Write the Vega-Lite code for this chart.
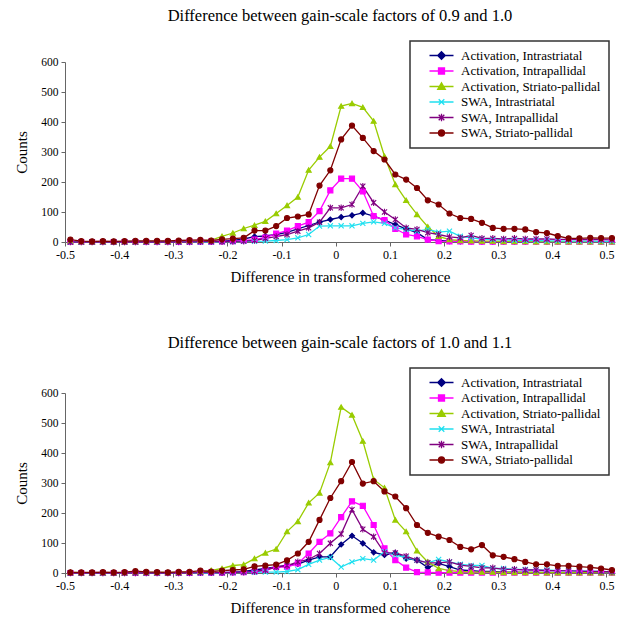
{
  "$schema": "https://vega.github.io/schema/vega-lite/v6.json",
  "padding": {"left": 14, "top": 7, "right": 0, "bottom": 0},
  "background": "white",
  "config": {
    "font": "Liberation Serif",
    "view": {"stroke": null},
    "axis": {"labelFont": "Liberation Serif", "titleFont": "Liberation Serif", "labelColor": "black", "titleColor": "black", "labelFontSize": 12, "titleFontSize": 15, "titleFontWeight": "normal", "domainColor": "#666", "tickColor": "#666", "tickSize": 4, "grid": false},
    "title": {"font": "Liberation Serif", "fontSize": 16.5, "fontWeight": "normal", "color": "black"}
  },
  "datasets": {
    "top": [
      {"s":"Activation, Intrastriatal","x":-0.49,"y":1},{"s":"Activation, Intrastriatal","x":-0.47,"y":0},{"s":"Activation, Intrastriatal","x":-0.45,"y":0},{"s":"Activation, Intrastriatal","x":-0.43,"y":0},{"s":"Activation, Intrastriatal","x":-0.41,"y":0},{"s":"Activation, Intrastriatal","x":-0.39,"y":0},{"s":"Activation, Intrastriatal","x":-0.37,"y":0},{"s":"Activation, Intrastriatal","x":-0.35,"y":1},{"s":"Activation, Intrastriatal","x":-0.33,"y":0},{"s":"Activation, Intrastriatal","x":-0.31,"y":0},
      {"s":"Activation, Intrastriatal","x":-0.29,"y":1},{"s":"Activation, Intrastriatal","x":-0.27,"y":1},{"s":"Activation, Intrastriatal","x":-0.25,"y":1},{"s":"Activation, Intrastriatal","x":-0.23,"y":2},{"s":"Activation, Intrastriatal","x":-0.21,"y":3},{"s":"Activation, Intrastriatal","x":-0.19,"y":5},{"s":"Activation, Intrastriatal","x":-0.17,"y":10},{"s":"Activation, Intrastriatal","x":-0.15,"y":18},{"s":"Activation, Intrastriatal","x":-0.13,"y":20},{"s":"Activation, Intrastriatal","x":-0.11,"y":25},
      {"s":"Activation, Intrastriatal","x":-0.09,"y":32},{"s":"Activation, Intrastriatal","x":-0.07,"y":44},{"s":"Activation, Intrastriatal","x":-0.05,"y":55},{"s":"Activation, Intrastriatal","x":-0.03,"y":66},{"s":"Activation, Intrastriatal","x":-0.01,"y":75},{"s":"Activation, Intrastriatal","x":0.01,"y":83},{"s":"Activation, Intrastriatal","x":0.03,"y":89},{"s":"Activation, Intrastriatal","x":0.05,"y":97},{"s":"Activation, Intrastriatal","x":0.07,"y":86},{"s":"Activation, Intrastriatal","x":0.09,"y":73},
      {"s":"Activation, Intrastriatal","x":0.11,"y":58},{"s":"Activation, Intrastriatal","x":0.13,"y":44},{"s":"Activation, Intrastriatal","x":0.15,"y":31},{"s":"Activation, Intrastriatal","x":0.17,"y":8},{"s":"Activation, Intrastriatal","x":0.19,"y":5},{"s":"Activation, Intrastriatal","x":0.21,"y":3},{"s":"Activation, Intrastriatal","x":0.23,"y":2},{"s":"Activation, Intrastriatal","x":0.25,"y":2},{"s":"Activation, Intrastriatal","x":0.27,"y":1},{"s":"Activation, Intrastriatal","x":0.29,"y":1},
      {"s":"Activation, Intrastriatal","x":0.31,"y":1},{"s":"Activation, Intrastriatal","x":0.33,"y":1},{"s":"Activation, Intrastriatal","x":0.35,"y":1},{"s":"Activation, Intrastriatal","x":0.37,"y":1},{"s":"Activation, Intrastriatal","x":0.39,"y":1},{"s":"Activation, Intrastriatal","x":0.41,"y":1},{"s":"Activation, Intrastriatal","x":0.43,"y":1},{"s":"Activation, Intrastriatal","x":0.45,"y":1},{"s":"Activation, Intrastriatal","x":0.47,"y":1},{"s":"Activation, Intrastriatal","x":0.49,"y":1},{"s":"Activation, Intrastriatal","x":0.51,"y":1},

      {"s":"Activation, Intrapallidal","x":-0.49,"y":0},{"s":"Activation, Intrapallidal","x":-0.47,"y":0},{"s":"Activation, Intrapallidal","x":-0.45,"y":0},{"s":"Activation, Intrapallidal","x":-0.43,"y":0},{"s":"Activation, Intrapallidal","x":-0.41,"y":0},{"s":"Activation, Intrapallidal","x":-0.39,"y":0},{"s":"Activation, Intrapallidal","x":-0.37,"y":0},{"s":"Activation, Intrapallidal","x":-0.35,"y":0},{"s":"Activation, Intrapallidal","x":-0.33,"y":0},{"s":"Activation, Intrapallidal","x":-0.31,"y":0},
      {"s":"Activation, Intrapallidal","x":-0.29,"y":0},{"s":"Activation, Intrapallidal","x":-0.27,"y":1},{"s":"Activation, Intrapallidal","x":-0.25,"y":1},{"s":"Activation, Intrapallidal","x":-0.23,"y":1},{"s":"Activation, Intrapallidal","x":-0.21,"y":2},{"s":"Activation, Intrapallidal","x":-0.19,"y":3},{"s":"Activation, Intrapallidal","x":-0.17,"y":5},{"s":"Activation, Intrapallidal","x":-0.15,"y":8},{"s":"Activation, Intrapallidal","x":-0.13,"y":15},{"s":"Activation, Intrapallidal","x":-0.11,"y":28},
      {"s":"Activation, Intrapallidal","x":-0.09,"y":38},{"s":"Activation, Intrapallidal","x":-0.07,"y":53},{"s":"Activation, Intrapallidal","x":-0.05,"y":66},{"s":"Activation, Intrapallidal","x":-0.03,"y":103},{"s":"Activation, Intrapallidal","x":-0.01,"y":172},{"s":"Activation, Intrapallidal","x":0.01,"y":211},{"s":"Activation, Intrapallidal","x":0.03,"y":211},{"s":"Activation, Intrapallidal","x":0.05,"y":169},{"s":"Activation, Intrapallidal","x":0.07,"y":86},{"s":"Activation, Intrapallidal","x":0.09,"y":73},
      {"s":"Activation, Intrapallidal","x":0.11,"y":44},{"s":"Activation, Intrapallidal","x":0.13,"y":25},{"s":"Activation, Intrapallidal","x":0.15,"y":19},{"s":"Activation, Intrapallidal","x":0.17,"y":8},{"s":"Activation, Intrapallidal","x":0.19,"y":3},{"s":"Activation, Intrapallidal","x":0.21,"y":2},{"s":"Activation, Intrapallidal","x":0.23,"y":2},{"s":"Activation, Intrapallidal","x":0.25,"y":1},{"s":"Activation, Intrapallidal","x":0.27,"y":1},{"s":"Activation, Intrapallidal","x":0.29,"y":1},
      {"s":"Activation, Intrapallidal","x":0.31,"y":1},{"s":"Activation, Intrapallidal","x":0.33,"y":1},{"s":"Activation, Intrapallidal","x":0.35,"y":1},{"s":"Activation, Intrapallidal","x":0.37,"y":1},{"s":"Activation, Intrapallidal","x":0.39,"y":1},{"s":"Activation, Intrapallidal","x":0.41,"y":1},{"s":"Activation, Intrapallidal","x":0.43,"y":1},{"s":"Activation, Intrapallidal","x":0.45,"y":1},{"s":"Activation, Intrapallidal","x":0.47,"y":1},{"s":"Activation, Intrapallidal","x":0.49,"y":1},{"s":"Activation, Intrapallidal","x":0.51,"y":1},

      {"s":"Activation, Striato-pallidal","x":-0.49,"y":2},{"s":"Activation, Striato-pallidal","x":-0.47,"y":1},{"s":"Activation, Striato-pallidal","x":-0.45,"y":1},{"s":"Activation, Striato-pallidal","x":-0.43,"y":1},{"s":"Activation, Striato-pallidal","x":-0.41,"y":1},{"s":"Activation, Striato-pallidal","x":-0.39,"y":1},{"s":"Activation, Striato-pallidal","x":-0.37,"y":1},{"s":"Activation, Striato-pallidal","x":-0.35,"y":2},{"s":"Activation, Striato-pallidal","x":-0.33,"y":2},{"s":"Activation, Striato-pallidal","x":-0.31,"y":2},
      {"s":"Activation, Striato-pallidal","x":-0.29,"y":3},{"s":"Activation, Striato-pallidal","x":-0.27,"y":3},{"s":"Activation, Striato-pallidal","x":-0.25,"y":4},{"s":"Activation, Striato-pallidal","x":-0.23,"y":6},{"s":"Activation, Striato-pallidal","x":-0.21,"y":19},{"s":"Activation, Striato-pallidal","x":-0.19,"y":30},{"s":"Activation, Striato-pallidal","x":-0.17,"y":45},{"s":"Activation, Striato-pallidal","x":-0.15,"y":56},{"s":"Activation, Striato-pallidal","x":-0.13,"y":69},{"s":"Activation, Striato-pallidal","x":-0.11,"y":95},
      {"s":"Activation, Striato-pallidal","x":-0.09,"y":122},{"s":"Activation, Striato-pallidal","x":-0.07,"y":150},{"s":"Activation, Striato-pallidal","x":-0.05,"y":240},{"s":"Activation, Striato-pallidal","x":-0.03,"y":283},{"s":"Activation, Striato-pallidal","x":-0.01,"y":319},{"s":"Activation, Striato-pallidal","x":0.01,"y":453},{"s":"Activation, Striato-pallidal","x":0.03,"y":462},{"s":"Activation, Striato-pallidal","x":0.05,"y":449},{"s":"Activation, Striato-pallidal","x":0.07,"y":403},{"s":"Activation, Striato-pallidal","x":0.09,"y":286},
      {"s":"Activation, Striato-pallidal","x":0.11,"y":192},{"s":"Activation, Striato-pallidal","x":0.13,"y":139},{"s":"Activation, Striato-pallidal","x":0.15,"y":92},{"s":"Activation, Striato-pallidal","x":0.17,"y":51},{"s":"Activation, Striato-pallidal","x":0.19,"y":19},{"s":"Activation, Striato-pallidal","x":0.21,"y":8},{"s":"Activation, Striato-pallidal","x":0.23,"y":5},{"s":"Activation, Striato-pallidal","x":0.25,"y":4},{"s":"Activation, Striato-pallidal","x":0.27,"y":3},{"s":"Activation, Striato-pallidal","x":0.29,"y":3},
      {"s":"Activation, Striato-pallidal","x":0.31,"y":2},{"s":"Activation, Striato-pallidal","x":0.33,"y":2},{"s":"Activation, Striato-pallidal","x":0.35,"y":2},{"s":"Activation, Striato-pallidal","x":0.37,"y":1},{"s":"Activation, Striato-pallidal","x":0.39,"y":1},{"s":"Activation, Striato-pallidal","x":0.41,"y":1},{"s":"Activation, Striato-pallidal","x":0.43,"y":1},{"s":"Activation, Striato-pallidal","x":0.45,"y":1},{"s":"Activation, Striato-pallidal","x":0.47,"y":1},{"s":"Activation, Striato-pallidal","x":0.49,"y":1},{"s":"Activation, Striato-pallidal","x":0.51,"y":1},

      {"s":"SWA, Intrastriatal","x":-0.49,"y":0},{"s":"SWA, Intrastriatal","x":-0.47,"y":0},{"s":"SWA, Intrastriatal","x":-0.45,"y":0},{"s":"SWA, Intrastriatal","x":-0.43,"y":0},{"s":"SWA, Intrastriatal","x":-0.41,"y":0},{"s":"SWA, Intrastriatal","x":-0.39,"y":0},{"s":"SWA, Intrastriatal","x":-0.37,"y":0},{"s":"SWA, Intrastriatal","x":-0.35,"y":0},{"s":"SWA, Intrastriatal","x":-0.33,"y":0},{"s":"SWA, Intrastriatal","x":-0.31,"y":0},
      {"s":"SWA, Intrastriatal","x":-0.29,"y":0},{"s":"SWA, Intrastriatal","x":-0.27,"y":0},{"s":"SWA, Intrastriatal","x":-0.25,"y":0},{"s":"SWA, Intrastriatal","x":-0.23,"y":0},{"s":"SWA, Intrastriatal","x":-0.21,"y":1},{"s":"SWA, Intrastriatal","x":-0.19,"y":1},{"s":"SWA, Intrastriatal","x":-0.17,"y":2},{"s":"SWA, Intrastriatal","x":-0.15,"y":2},{"s":"SWA, Intrastriatal","x":-0.13,"y":3},{"s":"SWA, Intrastriatal","x":-0.11,"y":5},
      {"s":"SWA, Intrastriatal","x":-0.09,"y":8},{"s":"SWA, Intrastriatal","x":-0.07,"y":14},{"s":"SWA, Intrastriatal","x":-0.05,"y":25},{"s":"SWA, Intrastriatal","x":-0.03,"y":53},{"s":"SWA, Intrastriatal","x":-0.01,"y":54},{"s":"SWA, Intrastriatal","x":0.01,"y":54},{"s":"SWA, Intrastriatal","x":0.03,"y":54},{"s":"SWA, Intrastriatal","x":0.05,"y":62},{"s":"SWA, Intrastriatal","x":0.07,"y":67},{"s":"SWA, Intrastriatal","x":0.09,"y":62},
      {"s":"SWA, Intrastriatal","x":0.11,"y":47},{"s":"SWA, Intrastriatal","x":0.13,"y":42},{"s":"SWA, Intrastriatal","x":0.15,"y":36},{"s":"SWA, Intrastriatal","x":0.17,"y":42},{"s":"SWA, Intrastriatal","x":0.19,"y":33},{"s":"SWA, Intrastriatal","x":0.21,"y":36},{"s":"SWA, Intrastriatal","x":0.23,"y":19},{"s":"SWA, Intrastriatal","x":0.25,"y":14},{"s":"SWA, Intrastriatal","x":0.27,"y":10},{"s":"SWA, Intrastriatal","x":0.29,"y":8},
      {"s":"SWA, Intrastriatal","x":0.31,"y":7},{"s":"SWA, Intrastriatal","x":0.33,"y":6},{"s":"SWA, Intrastriatal","x":0.35,"y":5},{"s":"SWA, Intrastriatal","x":0.37,"y":5},{"s":"SWA, Intrastriatal","x":0.39,"y":4},{"s":"SWA, Intrastriatal","x":0.41,"y":4},{"s":"SWA, Intrastriatal","x":0.43,"y":3},{"s":"SWA, Intrastriatal","x":0.45,"y":3},{"s":"SWA, Intrastriatal","x":0.47,"y":3},{"s":"SWA, Intrastriatal","x":0.49,"y":2},{"s":"SWA, Intrastriatal","x":0.51,"y":2},

      {"s":"SWA, Intrapallidal","x":-0.49,"y":0},{"s":"SWA, Intrapallidal","x":-0.47,"y":0},{"s":"SWA, Intrapallidal","x":-0.45,"y":0},{"s":"SWA, Intrapallidal","x":-0.43,"y":0},{"s":"SWA, Intrapallidal","x":-0.41,"y":0},{"s":"SWA, Intrapallidal","x":-0.39,"y":0},{"s":"SWA, Intrapallidal","x":-0.37,"y":0},{"s":"SWA, Intrapallidal","x":-0.35,"y":0},{"s":"SWA, Intrapallidal","x":-0.33,"y":0},{"s":"SWA, Intrapallidal","x":-0.31,"y":0},
      {"s":"SWA, Intrapallidal","x":-0.29,"y":0},{"s":"SWA, Intrapallidal","x":-0.27,"y":0},{"s":"SWA, Intrapallidal","x":-0.25,"y":1},{"s":"SWA, Intrapallidal","x":-0.23,"y":1},{"s":"SWA, Intrapallidal","x":-0.21,"y":1},{"s":"SWA, Intrapallidal","x":-0.19,"y":2},{"s":"SWA, Intrapallidal","x":-0.17,"y":3},{"s":"SWA, Intrapallidal","x":-0.15,"y":5},{"s":"SWA, Intrapallidal","x":-0.13,"y":12},{"s":"SWA, Intrapallidal","x":-0.11,"y":18},
      {"s":"SWA, Intrapallidal","x":-0.09,"y":25},{"s":"SWA, Intrapallidal","x":-0.07,"y":36},{"s":"SWA, Intrapallidal","x":-0.05,"y":47},{"s":"SWA, Intrapallidal","x":-0.03,"y":66},{"s":"SWA, Intrapallidal","x":-0.01,"y":114},{"s":"SWA, Intrapallidal","x":0.01,"y":114},{"s":"SWA, Intrapallidal","x":0.03,"y":125},{"s":"SWA, Intrapallidal","x":0.05,"y":186},{"s":"SWA, Intrapallidal","x":0.07,"y":131},{"s":"SWA, Intrapallidal","x":0.09,"y":100},
      {"s":"SWA, Intrapallidal","x":0.11,"y":75},{"s":"SWA, Intrapallidal","x":0.13,"y":47},{"s":"SWA, Intrapallidal","x":0.15,"y":42},{"s":"SWA, Intrapallidal","x":0.17,"y":31},{"s":"SWA, Intrapallidal","x":0.19,"y":25},{"s":"SWA, Intrapallidal","x":0.21,"y":17},{"s":"SWA, Intrapallidal","x":0.23,"y":14},{"s":"SWA, Intrapallidal","x":0.25,"y":22},{"s":"SWA, Intrapallidal","x":0.27,"y":12},{"s":"SWA, Intrapallidal","x":0.29,"y":12},
      {"s":"SWA, Intrapallidal","x":0.31,"y":10},{"s":"SWA, Intrapallidal","x":0.33,"y":12},{"s":"SWA, Intrapallidal","x":0.35,"y":10},{"s":"SWA, Intrapallidal","x":0.37,"y":10},{"s":"SWA, Intrapallidal","x":0.39,"y":10},{"s":"SWA, Intrapallidal","x":0.41,"y":9},{"s":"SWA, Intrapallidal","x":0.43,"y":9},{"s":"SWA, Intrapallidal","x":0.45,"y":8},{"s":"SWA, Intrapallidal","x":0.47,"y":8},{"s":"SWA, Intrapallidal","x":0.49,"y":8},{"s":"SWA, Intrapallidal","x":0.51,"y":7},

      {"s":"SWA, Striato-pallidal","x":-0.49,"y":8},{"s":"SWA, Striato-pallidal","x":-0.47,"y":3},{"s":"SWA, Striato-pallidal","x":-0.45,"y":2},{"s":"SWA, Striato-pallidal","x":-0.43,"y":3},{"s":"SWA, Striato-pallidal","x":-0.41,"y":2},{"s":"SWA, Striato-pallidal","x":-0.39,"y":3},{"s":"SWA, Striato-pallidal","x":-0.37,"y":4},{"s":"SWA, Striato-pallidal","x":-0.35,"y":4},{"s":"SWA, Striato-pallidal","x":-0.33,"y":4},{"s":"SWA, Striato-pallidal","x":-0.31,"y":4},
      {"s":"SWA, Striato-pallidal","x":-0.29,"y":5},{"s":"SWA, Striato-pallidal","x":-0.27,"y":6},{"s":"SWA, Striato-pallidal","x":-0.25,"y":7},{"s":"SWA, Striato-pallidal","x":-0.23,"y":5},{"s":"SWA, Striato-pallidal","x":-0.21,"y":9},{"s":"SWA, Striato-pallidal","x":-0.19,"y":11},{"s":"SWA, Striato-pallidal","x":-0.17,"y":14},{"s":"SWA, Striato-pallidal","x":-0.15,"y":38},{"s":"SWA, Striato-pallidal","x":-0.13,"y":38},{"s":"SWA, Striato-pallidal","x":-0.11,"y":53},
      {"s":"SWA, Striato-pallidal","x":-0.09,"y":80},{"s":"SWA, Striato-pallidal","x":-0.07,"y":85},{"s":"SWA, Striato-pallidal","x":-0.05,"y":92},{"s":"SWA, Striato-pallidal","x":-0.03,"y":188},{"s":"SWA, Striato-pallidal","x":-0.01,"y":239},{"s":"SWA, Striato-pallidal","x":0.01,"y":342},{"s":"SWA, Striato-pallidal","x":0.03,"y":388},{"s":"SWA, Striato-pallidal","x":0.05,"y":347},{"s":"SWA, Striato-pallidal","x":0.07,"y":303},{"s":"SWA, Striato-pallidal","x":0.09,"y":275},
      {"s":"SWA, Striato-pallidal","x":0.11,"y":225},{"s":"SWA, Striato-pallidal","x":0.13,"y":208},{"s":"SWA, Striato-pallidal","x":0.15,"y":180},{"s":"SWA, Striato-pallidal","x":0.17,"y":139},{"s":"SWA, Striato-pallidal","x":0.19,"y":125},{"s":"SWA, Striato-pallidal","x":0.21,"y":95},{"s":"SWA, Striato-pallidal","x":0.23,"y":80},{"s":"SWA, Striato-pallidal","x":0.25,"y":77},{"s":"SWA, Striato-pallidal","x":0.27,"y":64},{"s":"SWA, Striato-pallidal","x":0.29,"y":47},
      {"s":"SWA, Striato-pallidal","x":0.31,"y":44},{"s":"SWA, Striato-pallidal","x":0.33,"y":44},{"s":"SWA, Striato-pallidal","x":0.35,"y":42},{"s":"SWA, Striato-pallidal","x":0.37,"y":33},{"s":"SWA, Striato-pallidal","x":0.39,"y":30},{"s":"SWA, Striato-pallidal","x":0.41,"y":20},{"s":"SWA, Striato-pallidal","x":0.43,"y":12},{"s":"SWA, Striato-pallidal","x":0.45,"y":12},{"s":"SWA, Striato-pallidal","x":0.47,"y":14},{"s":"SWA, Striato-pallidal","x":0.49,"y":13},{"s":"SWA, Striato-pallidal","x":0.51,"y":13}
    ],
    "bottom": [
      {"s":"Activation, Intrastriatal","x":-0.49,"y":1},{"s":"Activation, Intrastriatal","x":-0.47,"y":0},{"s":"Activation, Intrastriatal","x":-0.45,"y":0},{"s":"Activation, Intrastriatal","x":-0.43,"y":0},{"s":"Activation, Intrastriatal","x":-0.41,"y":0},{"s":"Activation, Intrastriatal","x":-0.39,"y":0},{"s":"Activation, Intrastriatal","x":-0.37,"y":0},{"s":"Activation, Intrastriatal","x":-0.35,"y":0},{"s":"Activation, Intrastriatal","x":-0.33,"y":0},{"s":"Activation, Intrastriatal","x":-0.31,"y":0},
      {"s":"Activation, Intrastriatal","x":-0.29,"y":0},{"s":"Activation, Intrastriatal","x":-0.27,"y":1},{"s":"Activation, Intrastriatal","x":-0.25,"y":1},{"s":"Activation, Intrastriatal","x":-0.23,"y":1},{"s":"Activation, Intrastriatal","x":-0.21,"y":2},{"s":"Activation, Intrastriatal","x":-0.19,"y":3},{"s":"Activation, Intrastriatal","x":-0.17,"y":5},{"s":"Activation, Intrastriatal","x":-0.15,"y":10},{"s":"Activation, Intrastriatal","x":-0.13,"y":15},{"s":"Activation, Intrastriatal","x":-0.11,"y":20},
      {"s":"Activation, Intrastriatal","x":-0.09,"y":25},{"s":"Activation, Intrastriatal","x":-0.07,"y":30},{"s":"Activation, Intrastriatal","x":-0.05,"y":43},{"s":"Activation, Intrastriatal","x":-0.03,"y":54},{"s":"Activation, Intrastriatal","x":-0.01,"y":54},{"s":"Activation, Intrastriatal","x":0.01,"y":95},{"s":"Activation, Intrastriatal","x":0.03,"y":124},{"s":"Activation, Intrastriatal","x":0.05,"y":99},{"s":"Activation, Intrastriatal","x":0.07,"y":69},{"s":"Activation, Intrastriatal","x":0.09,"y":60},
      {"s":"Activation, Intrastriatal","x":0.11,"y":67},{"s":"Activation, Intrastriatal","x":0.13,"y":48},{"s":"Activation, Intrastriatal","x":0.15,"y":43},{"s":"Activation, Intrastriatal","x":0.17,"y":18},{"s":"Activation, Intrastriatal","x":0.19,"y":32},{"s":"Activation, Intrastriatal","x":0.21,"y":21},{"s":"Activation, Intrastriatal","x":0.23,"y":10},{"s":"Activation, Intrastriatal","x":0.25,"y":8},{"s":"Activation, Intrastriatal","x":0.27,"y":5},{"s":"Activation, Intrastriatal","x":0.29,"y":5},
      {"s":"Activation, Intrastriatal","x":0.31,"y":3},{"s":"Activation, Intrastriatal","x":0.33,"y":3},{"s":"Activation, Intrastriatal","x":0.35,"y":2},{"s":"Activation, Intrastriatal","x":0.37,"y":2},{"s":"Activation, Intrastriatal","x":0.39,"y":2},{"s":"Activation, Intrastriatal","x":0.41,"y":2},{"s":"Activation, Intrastriatal","x":0.43,"y":1},{"s":"Activation, Intrastriatal","x":0.45,"y":1},{"s":"Activation, Intrastriatal","x":0.47,"y":1},{"s":"Activation, Intrastriatal","x":0.49,"y":1},{"s":"Activation, Intrastriatal","x":0.51,"y":1},

      {"s":"Activation, Intrapallidal","x":-0.49,"y":0},{"s":"Activation, Intrapallidal","x":-0.47,"y":0},{"s":"Activation, Intrapallidal","x":-0.45,"y":0},{"s":"Activation, Intrapallidal","x":-0.43,"y":0},{"s":"Activation, Intrapallidal","x":-0.41,"y":0},{"s":"Activation, Intrapallidal","x":-0.39,"y":0},{"s":"Activation, Intrapallidal","x":-0.37,"y":0},{"s":"Activation, Intrapallidal","x":-0.35,"y":0},{"s":"Activation, Intrapallidal","x":-0.33,"y":0},{"s":"Activation, Intrapallidal","x":-0.31,"y":0},
      {"s":"Activation, Intrapallidal","x":-0.29,"y":0},{"s":"Activation, Intrapallidal","x":-0.27,"y":0},{"s":"Activation, Intrapallidal","x":-0.25,"y":1},{"s":"Activation, Intrapallidal","x":-0.23,"y":1},{"s":"Activation, Intrapallidal","x":-0.21,"y":1},{"s":"Activation, Intrapallidal","x":-0.19,"y":2},{"s":"Activation, Intrapallidal","x":-0.17,"y":3},{"s":"Activation, Intrapallidal","x":-0.15,"y":5},{"s":"Activation, Intrapallidal","x":-0.13,"y":10},{"s":"Activation, Intrapallidal","x":-0.11,"y":20},
      {"s":"Activation, Intrapallidal","x":-0.09,"y":20},{"s":"Activation, Intrapallidal","x":-0.07,"y":32},{"s":"Activation, Intrapallidal","x":-0.05,"y":65},{"s":"Activation, Intrapallidal","x":-0.03,"y":104},{"s":"Activation, Intrapallidal","x":-0.01,"y":132},{"s":"Activation, Intrapallidal","x":0.01,"y":186},{"s":"Activation, Intrapallidal","x":0.03,"y":239},{"s":"Activation, Intrapallidal","x":0.05,"y":224},{"s":"Activation, Intrapallidal","x":0.07,"y":160},{"s":"Activation, Intrapallidal","x":0.09,"y":82},
      {"s":"Activation, Intrapallidal","x":0.11,"y":43},{"s":"Activation, Intrapallidal","x":0.13,"y":18},{"s":"Activation, Intrapallidal","x":0.15,"y":3},{"s":"Activation, Intrapallidal","x":0.17,"y":2},{"s":"Activation, Intrapallidal","x":0.19,"y":1},{"s":"Activation, Intrapallidal","x":0.21,"y":1},{"s":"Activation, Intrapallidal","x":0.23,"y":1},{"s":"Activation, Intrapallidal","x":0.25,"y":1},{"s":"Activation, Intrapallidal","x":0.27,"y":1},{"s":"Activation, Intrapallidal","x":0.29,"y":1},
      {"s":"Activation, Intrapallidal","x":0.31,"y":1},{"s":"Activation, Intrapallidal","x":0.33,"y":1},{"s":"Activation, Intrapallidal","x":0.35,"y":1},{"s":"Activation, Intrapallidal","x":0.37,"y":1},{"s":"Activation, Intrapallidal","x":0.39,"y":1},{"s":"Activation, Intrapallidal","x":0.41,"y":1},{"s":"Activation, Intrapallidal","x":0.43,"y":1},{"s":"Activation, Intrapallidal","x":0.45,"y":1},{"s":"Activation, Intrapallidal","x":0.47,"y":1},{"s":"Activation, Intrapallidal","x":0.49,"y":1},{"s":"Activation, Intrapallidal","x":0.51,"y":1},

      {"s":"Activation, Striato-pallidal","x":-0.49,"y":2},{"s":"Activation, Striato-pallidal","x":-0.47,"y":1},{"s":"Activation, Striato-pallidal","x":-0.45,"y":1},{"s":"Activation, Striato-pallidal","x":-0.43,"y":1},{"s":"Activation, Striato-pallidal","x":-0.41,"y":1},{"s":"Activation, Striato-pallidal","x":-0.39,"y":1},{"s":"Activation, Striato-pallidal","x":-0.37,"y":2},{"s":"Activation, Striato-pallidal","x":-0.35,"y":2},{"s":"Activation, Striato-pallidal","x":-0.33,"y":2},{"s":"Activation, Striato-pallidal","x":-0.31,"y":2},
      {"s":"Activation, Striato-pallidal","x":-0.29,"y":2},{"s":"Activation, Striato-pallidal","x":-0.27,"y":3},{"s":"Activation, Striato-pallidal","x":-0.25,"y":3},{"s":"Activation, Striato-pallidal","x":-0.23,"y":9},{"s":"Activation, Striato-pallidal","x":-0.21,"y":15},{"s":"Activation, Striato-pallidal","x":-0.19,"y":25},{"s":"Activation, Striato-pallidal","x":-0.17,"y":28},{"s":"Activation, Striato-pallidal","x":-0.15,"y":48},{"s":"Activation, Striato-pallidal","x":-0.13,"y":67},{"s":"Activation, Striato-pallidal","x":-0.11,"y":80},
      {"s":"Activation, Striato-pallidal","x":-0.09,"y":138},{"s":"Activation, Striato-pallidal","x":-0.07,"y":172},{"s":"Activation, Striato-pallidal","x":-0.05,"y":234},{"s":"Activation, Striato-pallidal","x":-0.03,"y":267},{"s":"Activation, Striato-pallidal","x":-0.01,"y":368},{"s":"Activation, Striato-pallidal","x":0.01,"y":553},{"s":"Activation, Striato-pallidal","x":0.03,"y":527},{"s":"Activation, Striato-pallidal","x":0.05,"y":440},{"s":"Activation, Striato-pallidal","x":0.07,"y":312},{"s":"Activation, Striato-pallidal","x":0.09,"y":284},
      {"s":"Activation, Striato-pallidal","x":0.11,"y":177},{"s":"Activation, Striato-pallidal","x":0.13,"y":138},{"s":"Activation, Striato-pallidal","x":0.15,"y":74},{"s":"Activation, Striato-pallidal","x":0.17,"y":37},{"s":"Activation, Striato-pallidal","x":0.19,"y":15},{"s":"Activation, Striato-pallidal","x":0.21,"y":8},{"s":"Activation, Striato-pallidal","x":0.23,"y":5},{"s":"Activation, Striato-pallidal","x":0.25,"y":4},{"s":"Activation, Striato-pallidal","x":0.27,"y":3},{"s":"Activation, Striato-pallidal","x":0.29,"y":3},
      {"s":"Activation, Striato-pallidal","x":0.31,"y":2},{"s":"Activation, Striato-pallidal","x":0.33,"y":2},{"s":"Activation, Striato-pallidal","x":0.35,"y":2},{"s":"Activation, Striato-pallidal","x":0.37,"y":2},{"s":"Activation, Striato-pallidal","x":0.39,"y":1},{"s":"Activation, Striato-pallidal","x":0.41,"y":1},{"s":"Activation, Striato-pallidal","x":0.43,"y":1},{"s":"Activation, Striato-pallidal","x":0.45,"y":1},{"s":"Activation, Striato-pallidal","x":0.47,"y":1},{"s":"Activation, Striato-pallidal","x":0.49,"y":1},{"s":"Activation, Striato-pallidal","x":0.51,"y":1},

      {"s":"SWA, Intrastriatal","x":-0.49,"y":0},{"s":"SWA, Intrastriatal","x":-0.47,"y":0},{"s":"SWA, Intrastriatal","x":-0.45,"y":0},{"s":"SWA, Intrastriatal","x":-0.43,"y":0},{"s":"SWA, Intrastriatal","x":-0.41,"y":0},{"s":"SWA, Intrastriatal","x":-0.39,"y":0},{"s":"SWA, Intrastriatal","x":-0.37,"y":0},{"s":"SWA, Intrastriatal","x":-0.35,"y":0},{"s":"SWA, Intrastriatal","x":-0.33,"y":0},{"s":"SWA, Intrastriatal","x":-0.31,"y":0},
      {"s":"SWA, Intrastriatal","x":-0.29,"y":0},{"s":"SWA, Intrastriatal","x":-0.27,"y":0},{"s":"SWA, Intrastriatal","x":-0.25,"y":0},{"s":"SWA, Intrastriatal","x":-0.23,"y":0},{"s":"SWA, Intrastriatal","x":-0.21,"y":1},{"s":"SWA, Intrastriatal","x":-0.19,"y":1},{"s":"SWA, Intrastriatal","x":-0.17,"y":2},{"s":"SWA, Intrastriatal","x":-0.15,"y":2},{"s":"SWA, Intrastriatal","x":-0.13,"y":3},{"s":"SWA, Intrastriatal","x":-0.11,"y":3},
      {"s":"SWA, Intrastriatal","x":-0.09,"y":5},{"s":"SWA, Intrastriatal","x":-0.07,"y":11},{"s":"SWA, Intrastriatal","x":-0.05,"y":29},{"s":"SWA, Intrastriatal","x":-0.03,"y":43},{"s":"SWA, Intrastriatal","x":-0.01,"y":52},{"s":"SWA, Intrastriatal","x":0.01,"y":20},{"s":"SWA, Intrastriatal","x":0.03,"y":37},{"s":"SWA, Intrastriatal","x":0.05,"y":48},{"s":"SWA, Intrastriatal","x":0.07,"y":43},{"s":"SWA, Intrastriatal","x":0.09,"y":71},
      {"s":"SWA, Intrastriatal","x":0.11,"y":60},{"s":"SWA, Intrastriatal","x":0.13,"y":51},{"s":"SWA, Intrastriatal","x":0.15,"y":43},{"s":"SWA, Intrastriatal","x":0.17,"y":34},{"s":"SWA, Intrastriatal","x":0.19,"y":45},{"s":"SWA, Intrastriatal","x":0.21,"y":37},{"s":"SWA, Intrastriatal","x":0.23,"y":29},{"s":"SWA, Intrastriatal","x":0.25,"y":25},{"s":"SWA, Intrastriatal","x":0.27,"y":25},{"s":"SWA, Intrastriatal","x":0.29,"y":15},
      {"s":"SWA, Intrastriatal","x":0.31,"y":15},{"s":"SWA, Intrastriatal","x":0.33,"y":12},{"s":"SWA, Intrastriatal","x":0.35,"y":12},{"s":"SWA, Intrastriatal","x":0.37,"y":10},{"s":"SWA, Intrastriatal","x":0.39,"y":10},{"s":"SWA, Intrastriatal","x":0.41,"y":8},{"s":"SWA, Intrastriatal","x":0.43,"y":8},{"s":"SWA, Intrastriatal","x":0.45,"y":7},{"s":"SWA, Intrastriatal","x":0.47,"y":6},{"s":"SWA, Intrastriatal","x":0.49,"y":5},{"s":"SWA, Intrastriatal","x":0.51,"y":4},

      {"s":"SWA, Intrapallidal","x":-0.49,"y":0},{"s":"SWA, Intrapallidal","x":-0.47,"y":0},{"s":"SWA, Intrapallidal","x":-0.45,"y":0},{"s":"SWA, Intrapallidal","x":-0.43,"y":0},{"s":"SWA, Intrapallidal","x":-0.41,"y":0},{"s":"SWA, Intrapallidal","x":-0.39,"y":0},{"s":"SWA, Intrapallidal","x":-0.37,"y":0},{"s":"SWA, Intrapallidal","x":-0.35,"y":0},{"s":"SWA, Intrapallidal","x":-0.33,"y":0},{"s":"SWA, Intrapallidal","x":-0.31,"y":0},
      {"s":"SWA, Intrapallidal","x":-0.29,"y":0},{"s":"SWA, Intrapallidal","x":-0.27,"y":0},{"s":"SWA, Intrapallidal","x":-0.25,"y":1},{"s":"SWA, Intrapallidal","x":-0.23,"y":1},{"s":"SWA, Intrapallidal","x":-0.21,"y":1},{"s":"SWA, Intrapallidal","x":-0.19,"y":2},{"s":"SWA, Intrapallidal","x":-0.17,"y":3},{"s":"SWA, Intrapallidal","x":-0.15,"y":5},{"s":"SWA, Intrapallidal","x":-0.13,"y":10},{"s":"SWA, Intrapallidal","x":-0.11,"y":20},
      {"s":"SWA, Intrapallidal","x":-0.09,"y":25},{"s":"SWA, Intrapallidal","x":-0.07,"y":37},{"s":"SWA, Intrapallidal","x":-0.05,"y":45},{"s":"SWA, Intrapallidal","x":-0.03,"y":65},{"s":"SWA, Intrapallidal","x":-0.01,"y":99},{"s":"SWA, Intrapallidal","x":0.01,"y":130},{"s":"SWA, Intrapallidal","x":0.03,"y":211},{"s":"SWA, Intrapallidal","x":0.05,"y":146},{"s":"SWA, Intrapallidal","x":0.07,"y":121},{"s":"SWA, Intrapallidal","x":0.09,"y":67},
      {"s":"SWA, Intrapallidal","x":0.11,"y":67},{"s":"SWA, Intrapallidal","x":0.13,"y":56},{"s":"SWA, Intrapallidal","x":0.15,"y":43},{"s":"SWA, Intrapallidal","x":0.17,"y":34},{"s":"SWA, Intrapallidal","x":0.19,"y":34},{"s":"SWA, Intrapallidal","x":0.21,"y":37},{"s":"SWA, Intrapallidal","x":0.23,"y":26},{"s":"SWA, Intrapallidal","x":0.25,"y":22},{"s":"SWA, Intrapallidal","x":0.27,"y":17},{"s":"SWA, Intrapallidal","x":0.29,"y":17},
      {"s":"SWA, Intrapallidal","x":0.31,"y":12},{"s":"SWA, Intrapallidal","x":0.33,"y":12},{"s":"SWA, Intrapallidal","x":0.35,"y":10},{"s":"SWA, Intrapallidal","x":0.37,"y":10},{"s":"SWA, Intrapallidal","x":0.39,"y":8},{"s":"SWA, Intrapallidal","x":0.41,"y":8},{"s":"SWA, Intrapallidal","x":0.43,"y":7},{"s":"SWA, Intrapallidal","x":0.45,"y":6},{"s":"SWA, Intrapallidal","x":0.47,"y":5},{"s":"SWA, Intrapallidal","x":0.49,"y":5},{"s":"SWA, Intrapallidal","x":0.51,"y":4},

      {"s":"SWA, Striato-pallidal","x":-0.49,"y":2},{"s":"SWA, Striato-pallidal","x":-0.47,"y":2},{"s":"SWA, Striato-pallidal","x":-0.45,"y":2},{"s":"SWA, Striato-pallidal","x":-0.43,"y":3},{"s":"SWA, Striato-pallidal","x":-0.41,"y":2},{"s":"SWA, Striato-pallidal","x":-0.39,"y":3},{"s":"SWA, Striato-pallidal","x":-0.37,"y":6},{"s":"SWA, Striato-pallidal","x":-0.35,"y":4},{"s":"SWA, Striato-pallidal","x":-0.33,"y":3},{"s":"SWA, Striato-pallidal","x":-0.31,"y":2},
      {"s":"SWA, Striato-pallidal","x":-0.29,"y":4},{"s":"SWA, Striato-pallidal","x":-0.27,"y":4},{"s":"SWA, Striato-pallidal","x":-0.25,"y":8},{"s":"SWA, Striato-pallidal","x":-0.23,"y":5},{"s":"SWA, Striato-pallidal","x":-0.21,"y":8},{"s":"SWA, Striato-pallidal","x":-0.19,"y":10},{"s":"SWA, Striato-pallidal","x":-0.17,"y":12},{"s":"SWA, Striato-pallidal","x":-0.15,"y":22},{"s":"SWA, Striato-pallidal","x":-0.13,"y":25},{"s":"SWA, Striato-pallidal","x":-0.11,"y":28},
      {"s":"SWA, Striato-pallidal","x":-0.09,"y":42},{"s":"SWA, Striato-pallidal","x":-0.07,"y":65},{"s":"SWA, Striato-pallidal","x":-0.05,"y":104},{"s":"SWA, Striato-pallidal","x":-0.03,"y":177},{"s":"SWA, Striato-pallidal","x":-0.01,"y":250},{"s":"SWA, Striato-pallidal","x":0.01,"y":306},{"s":"SWA, Striato-pallidal","x":0.03,"y":370},{"s":"SWA, Striato-pallidal","x":0.05,"y":298},{"s":"SWA, Striato-pallidal","x":0.07,"y":306},{"s":"SWA, Striato-pallidal","x":0.09,"y":272},
      {"s":"SWA, Striato-pallidal","x":0.11,"y":255},{"s":"SWA, Striato-pallidal","x":0.13,"y":216},{"s":"SWA, Striato-pallidal","x":0.15,"y":160},{"s":"SWA, Striato-pallidal","x":0.17,"y":134},{"s":"SWA, Striato-pallidal","x":0.19,"y":121},{"s":"SWA, Striato-pallidal","x":0.21,"y":110},{"s":"SWA, Striato-pallidal","x":0.23,"y":87},{"s":"SWA, Striato-pallidal","x":0.25,"y":79},{"s":"SWA, Striato-pallidal","x":0.27,"y":93},{"s":"SWA, Striato-pallidal","x":0.29,"y":59},
      {"s":"SWA, Striato-pallidal","x":0.31,"y":54},{"s":"SWA, Striato-pallidal","x":0.33,"y":46},{"s":"SWA, Striato-pallidal","x":0.35,"y":37},{"s":"SWA, Striato-pallidal","x":0.37,"y":29},{"s":"SWA, Striato-pallidal","x":0.39,"y":29},{"s":"SWA, Striato-pallidal","x":0.41,"y":24},{"s":"SWA, Striato-pallidal","x":0.43,"y":24},{"s":"SWA, Striato-pallidal","x":0.45,"y":21},{"s":"SWA, Striato-pallidal","x":0.47,"y":19},{"s":"SWA, Striato-pallidal","x":0.49,"y":15},{"s":"SWA, Striato-pallidal","x":0.51,"y":10}
    ]
  },
  "spacing": 50,
  "resolve": {"scale": {"color": "independent", "shape": "independent", "fill": "independent"}, "legend": {"color": "independent"}},
  "vconcat": [
    {
      "data": {"name": "top"},
      "title": {"text": "Difference between gain-scale factors of 0.9 and 1.0", "offset": 16},
      "width": 550,
      "height": 180,
      "encoding": {
        "x": {"field": "x", "type": "quantitative", "scale": {"domain": [-0.5, 0.5157], "nice": false, "zero": false}, "axis": {"title": "Difference in transformed coherence", "values": [-0.5, -0.4, -0.3, -0.2, -0.1, 0, 0.1, 0.2, 0.3, 0.4, 0.5], "labelExpr": "datum.value == 0 ? '0' : toString(round(datum.value * 10) / 10)", "labelPadding": 3, "titlePadding": 9, "labelFlush": false}},
        "y": {"field": "y", "type": "quantitative", "scale": {"domain": [0, 600], "nice": false}, "axis": {"title": "Counts", "values": [0, 100, 200, 300, 400, 500, 600], "labelFontSize": 11.5, "labelPadding": 3, "titlePadding": 11}}
      },
      "layer": [
        {
          "mark": {"type": "line", "strokeWidth": 1.3},
          "encoding": {
            "color": {"field": "s", "type": "nominal", "scale": {"domain": ["Activation, Intrastriatal", "Activation, Intrapallidal", "Activation, Striato-pallidal", "SWA, Intrastriatal", "SWA, Intrapallidal", "SWA, Striato-pallidal"], "range": ["#000080", "#FF00FF", "#99CC00", "#20E0F0", "#800080", "#800000"]},
              "legend": {"orient": "none", "legendX": 345, "legendY": -21, "title": null, "padding": 8, "strokeColor": "#333", "fillColor": "white", "labelFont": "Liberation Serif", "labelFontSize": 13, "labelColor": "black", "symbolSize": 64, "labelOffset": 30, "rowPadding": 1.5, "symbolStrokeWidth": 1.3,
                "encoding": {
                  "legend": {"strokeWidth": {"value": 1.5}},
                  "symbols": {
                  "shape": {"value": {"expr": "datum.value === 'Activation, Intrastriatal' ? 'M1.25,0H7.25M4.25,-0.95L5.2,0L4.25,0.95L3.3,0Z' : datum.value === 'Activation, Intrapallidal' ? 'M1.25,0H7.25M3.5,-0.75H5V0.75H3.5Z' : datum.value === 'Activation, Striato-pallidal' ? 'M1.25,0H7.25M4.25,-0.95L5.2,0.7H3.3Z' : datum.value === 'SWA, Intrastriatal' ? 'M1.25,0H7.25M3.55,-0.7L4.95,0.7M3.55,0.7L4.95,-0.7' : datum.value === 'SWA, Intrapallidal' ? 'M1.25,0H7.25M3.55,-0.7L4.95,0.7M3.55,0.7L4.95,-0.7M4.25,-0.95V0.95' : 'M1.25,0H7.25M3.5,0A0.75,0.75,0,1,0,5,0A0.75,0.75,0,1,0,3.5,0Z'"}},
                  "fill": {"value": {"expr": "datum.value === 'Activation, Intrastriatal' ? '#000080' : datum.value === 'Activation, Intrapallidal' ? '#FF00FF' : datum.value === 'Activation, Striato-pallidal' ? '#99CC00' : datum.value === 'SWA, Intrastriatal' ? '#20E0F0' : datum.value === 'SWA, Intrapallidal' ? '#800080' : '#800000'"}},
                  "stroke": {"value": {"expr": "datum.value === 'Activation, Intrastriatal' ? '#000080' : datum.value === 'Activation, Intrapallidal' ? '#FF00FF' : datum.value === 'Activation, Striato-pallidal' ? '#99CC00' : datum.value === 'SWA, Intrastriatal' ? '#20E0F0' : datum.value === 'SWA, Intrapallidal' ? '#800080' : '#800000'"}},
                  "opacity": {"value": 1}
                }}
              }
            }
          }
        },
        {
          "mark": {"type": "point", "filled": false, "size": 26, "strokeWidth": 1.1, "opacity": 1},
          "encoding": {
            "color": {"field": "s", "type": "nominal", "legend": null},
            "fill": {"field": "s", "type": "nominal", "legend": null, "scale": {"range": ["#FF00FF", "#000080", "#99CC00", "#800080", "#20E0F0", "#800000"]}},
            "shape": {"field": "s", "type": "nominal", "legend": null, "scale": {"range": ["square", "diamond", "triangle-up", "M-1,-1L1,1M-1,1L1,-1M0,-1.3L0,1.3", "M-1,-1L1,1M-1,1L1,-1", "circle"]}}
          }
        }
      ]
    },
    {
      "data": {"name": "bottom"},
      "title": {"text": "Difference between gain-scale factors of 1.0 and 1.1", "offset": 16},
      "width": 550,
      "height": 180,
      "encoding": {
        "x": {"field": "x", "type": "quantitative", "scale": {"domain": [-0.5, 0.5157], "nice": false, "zero": false}, "axis": {"title": "Difference in transformed coherence", "values": [-0.5, -0.4, -0.3, -0.2, -0.1, 0, 0.1, 0.2, 0.3, 0.4, 0.5], "labelExpr": "datum.value == 0 ? '0' : toString(round(datum.value * 10) / 10)", "labelPadding": 3, "titlePadding": 9, "labelFlush": false}},
        "y": {"field": "y", "type": "quantitative", "scale": {"domain": [0, 600], "nice": false}, "axis": {"title": "Counts", "values": [0, 100, 200, 300, 400, 500, 600], "labelFontSize": 11.5, "labelPadding": 3, "titlePadding": 11}}
      },
      "layer": [
        {
          "mark": {"type": "line", "strokeWidth": 1.3},
          "encoding": {
            "color": {"field": "s", "type": "nominal", "scale": {"domain": ["Activation, Intrastriatal", "Activation, Intrapallidal", "Activation, Striato-pallidal", "SWA, Intrastriatal", "SWA, Intrapallidal", "SWA, Striato-pallidal"], "range": ["#000080", "#FF00FF", "#99CC00", "#20E0F0", "#800080", "#800000"]},
              "legend": {"orient": "none", "legendX": 345, "legendY": -25, "title": null, "padding": 8, "strokeColor": "#333", "fillColor": "white", "labelFont": "Liberation Serif", "labelFontSize": 13, "labelColor": "black", "symbolSize": 64, "labelOffset": 30, "rowPadding": 1.5, "symbolStrokeWidth": 1.3,
                "encoding": {
                  "legend": {"strokeWidth": {"value": 1.5}},
                  "symbols": {
                  "shape": {"value": {"expr": "datum.value === 'Activation, Intrastriatal' ? 'M1.25,0H7.25M4.25,-0.95L5.2,0L4.25,0.95L3.3,0Z' : datum.value === 'Activation, Intrapallidal' ? 'M1.25,0H7.25M3.5,-0.75H5V0.75H3.5Z' : datum.value === 'Activation, Striato-pallidal' ? 'M1.25,0H7.25M4.25,-0.95L5.2,0.7H3.3Z' : datum.value === 'SWA, Intrastriatal' ? 'M1.25,0H7.25M3.55,-0.7L4.95,0.7M3.55,0.7L4.95,-0.7' : datum.value === 'SWA, Intrapallidal' ? 'M1.25,0H7.25M3.55,-0.7L4.95,0.7M3.55,0.7L4.95,-0.7M4.25,-0.95V0.95' : 'M1.25,0H7.25M3.5,0A0.75,0.75,0,1,0,5,0A0.75,0.75,0,1,0,3.5,0Z'"}},
                  "fill": {"value": {"expr": "datum.value === 'Activation, Intrastriatal' ? '#000080' : datum.value === 'Activation, Intrapallidal' ? '#FF00FF' : datum.value === 'Activation, Striato-pallidal' ? '#99CC00' : datum.value === 'SWA, Intrastriatal' ? '#20E0F0' : datum.value === 'SWA, Intrapallidal' ? '#800080' : '#800000'"}},
                  "stroke": {"value": {"expr": "datum.value === 'Activation, Intrastriatal' ? '#000080' : datum.value === 'Activation, Intrapallidal' ? '#FF00FF' : datum.value === 'Activation, Striato-pallidal' ? '#99CC00' : datum.value === 'SWA, Intrastriatal' ? '#20E0F0' : datum.value === 'SWA, Intrapallidal' ? '#800080' : '#800000'"}},
                  "opacity": {"value": 1}
                }}
              }
            }
          }
        },
        {
          "mark": {"type": "point", "filled": false, "size": 26, "strokeWidth": 1.1, "opacity": 1},
          "encoding": {
            "color": {"field": "s", "type": "nominal", "legend": null},
            "fill": {"field": "s", "type": "nominal", "legend": null, "scale": {"range": ["#FF00FF", "#000080", "#99CC00", "#800080", "#20E0F0", "#800000"]}},
            "shape": {"field": "s", "type": "nominal", "legend": null, "scale": {"range": ["square", "diamond", "triangle-up", "M-1,-1L1,1M-1,1L1,-1M0,-1.3L0,1.3", "M-1,-1L1,1M-1,1L1,-1", "circle"]}}
          }
        }
      ]
    }
  ]
}
